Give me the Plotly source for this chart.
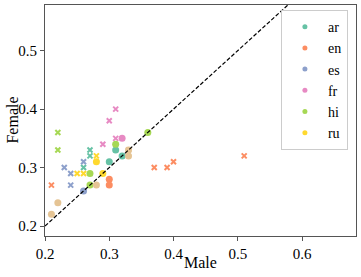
import plotly.graph_objects as go

languages = ["ar", "en", "es", "fr", "hi", "ru", "other"]
colors = ["#66c2a5", "#fc8d62", "#8da0cb", "#e78ac3", "#a6d854", "#ffd92f", "#e5c494"]

# circle markers (male, female)
circle_male = {
    "ar": [0.31, 0.32, 0.30],
    "en": [0.30, 0.30],
    "es": [0.26],
    "fr": [0.32],
    "hi": [0.31, 0.27, 0.27, 0.36],
    "ru": [0.28, 0.29],
    "other": [0.21, 0.22, 0.28, 0.33, 0.33],
}
circle_female = {
    "ar": [0.33, 0.32, 0.31],
    "en": [0.28, 0.27],
    "es": [0.26],
    "fr": [0.35],
    "hi": [0.34, 0.29, 0.27, 0.36],
    "ru": [0.31, 0.29],
    "other": [0.22, 0.24, 0.27, 0.32, 0.33],
}
# cross markers (male, female)
cross_male = {
    "ar": [0.27, 0.27, 0.26],
    "en": [0.21, 0.37, 0.39, 0.40, 0.51],
    "es": [0.26, 0.23, 0.24, 0.24],
    "fr": [0.29, 0.31, 0.31, 0.30],
    "hi": [0.22, 0.22],
    "ru": [0.28, 0.25, 0.26],
    "other": [0.33],
}
cross_female = {
    "ar": [0.33, 0.32, 0.30],
    "en": [0.27, 0.30, 0.30, 0.31, 0.32],
    "es": [0.31, 0.30, 0.29, 0.27],
    "fr": [0.34, 0.35, 0.40, 0.38],
    "hi": [0.36, 0.33],
    "ru": [0.32, 0.29, 0.29],
    "other": [0.33],
}

diag = [0.2, 0.7]
x_ticks = [0.2, 0.3, 0.4, 0.5, 0.6]
y_ticks = [0.2, 0.3, 0.4, 0.5]

fig = go.Figure()
for lang, col in zip(languages, colors):
    fig.add_trace(go.Scatter(x=circle_male[lang], y=circle_female[lang], mode="markers",
                             marker=dict(symbol="circle", size=7, color=col, line=dict(width=0)),
                             showlegend=False, hoverinfo="skip"))
    fig.add_trace(go.Scatter(x=cross_male[lang], y=cross_female[lang], mode="markers",
                             marker=dict(symbol="x-thin", size=5, color=col,
                                         line=dict(width=2, color=col)),
                             showlegend=False, hoverinfo="skip"))

for lang, col in zip(languages[:6], colors[:6]):
    fig.add_trace(go.Scatter(x=[None], y=[None], mode="markers", name=lang,
                             marker=dict(symbol="circle", size=5, color=col)))

fig.add_trace(go.Scatter(x=diag, y=diag, mode="lines", showlegend=False,
                         line=dict(color="black", width=1.2, dash="4px,2px"), hoverinfo="skip"))

axis_common = dict(showline=True, linecolor="#555", linewidth=1, mirror=True,
                   ticks="outside", ticklen=4, tickcolor="#555", showgrid=False,
                   zeroline=False, tickfont=dict(size=15, color="black"), automargin=False)
fig.update_xaxes(range=[0.2, 0.684], tickvals=x_ticks, ticktext=[f"{v:.1f}" for v in x_ticks],
                 **axis_common)
fig.update_yaxes(range=[0.183, 0.578], tickvals=y_ticks, ticktext=[f"{v:.1f}" for v in y_ticks],
                 **axis_common)

fig.add_annotation(text="Male", xref="paper", yref="paper", x=0.5, y=-0.115,
                   xanchor="center", yanchor="middle", showarrow=False,
                   font=dict(size=16, color="black"))
fig.add_annotation(text="Female", xref="paper", yref="paper", x=-0.106, y=0.5,
                   xanchor="center", yanchor="middle", showarrow=False, textangle=-90,
                   font=dict(size=16, color="black"))

fig.update_layout(
    width=361, height=277,
    margin=dict(l=45, r=5, t=5, b=41, autoexpand=False),
    plot_bgcolor="white", paper_bgcolor="white",
    font=dict(family="Liberation Serif, DejaVu Serif, serif", color="black"),
    legend=dict(x=0.974, y=0.978, xanchor="right", yanchor="top",
                bgcolor="white", bordercolor="#cccccc", borderwidth=1,
                font=dict(size=14), tracegroupgap=0, itemwidth=36),
)

fig.write_html("out.html", config={"displayModeBar": False},
               post_script="document.body.style.margin='0';document.body.style.overflow='hidden';")
